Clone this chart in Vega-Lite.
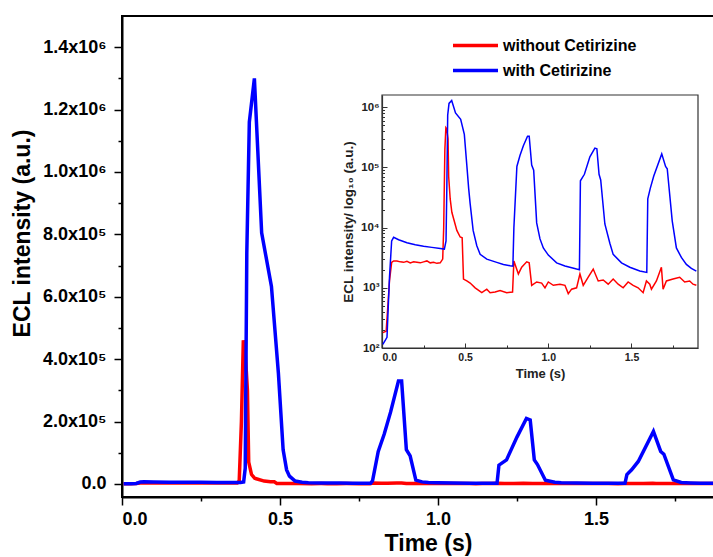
{
  "$schema": "https://vega.github.io/schema/vega-lite/v6.json",
  "width": 612,
  "height": 481,
  "autosize": "none",
  "padding": {"left": 122, "top": 16, "right": 0, "bottom": 60},
  "background": "white",
  "config": {"font": "Liberation Sans", "view": {"stroke": "black", "strokeWidth": 2}},
  "datasets": {
    "ecl": [
      {"t":0.005,"v":180,"series":"without Cetirizine"},{"t":0.025,"v":190,"series":"without Cetirizine"},{"t":0.045,"v":1300,"series":"without Cetirizine"},{"t":0.058,"v":2650,"series":"without Cetirizine"},{"t":0.07,"v":2800,"series":"without Cetirizine"},{"t":0.09,"v":2800,"series":"without Cetirizine"},{"t":0.11,"v":2700,"series":"without Cetirizine"},{"t":0.13,"v":2650,"series":"without Cetirizine"},{"t":0.15,"v":2750,"series":"without Cetirizine"},{"t":0.17,"v":2600,"series":"without Cetirizine"},{"t":0.19,"v":2700,"series":"without Cetirizine"},{"t":0.21,"v":2650,"series":"without Cetirizine"},{"t":0.23,"v":2600,"series":"without Cetirizine"},{"t":0.25,"v":2700,"series":"without Cetirizine"},{"t":0.27,"v":2800,"series":"without Cetirizine"},{"t":0.29,"v":2600,"series":"without Cetirizine"},{"t":0.31,"v":2650,"series":"without Cetirizine"},{"t":0.33,"v":2550,"series":"without Cetirizine"},{"t":0.35,"v":2600,"series":"without Cetirizine"},{"t":0.365,"v":3000,"series":"without Cetirizine"},{"t":0.371,"v":10000,"series":"without Cetirizine"},{"t":0.378,"v":200000,"series":"without Cetirizine"},{"t":0.384,"v":460000,"series":"without Cetirizine"},{"t":0.389,"v":440000,"series":"without Cetirizine"},{"t":0.397,"v":300000,"series":"without Cetirizine"},{"t":0.401,"v":70000,"series":"without Cetirizine"},{"t":0.41,"v":30000,"series":"without Cetirizine"},{"t":0.42,"v":18000,"series":"without Cetirizine"},{"t":0.45,"v":9000,"series":"without Cetirizine"},{"t":0.47,"v":7000,"series":"without Cetirizine"},{"t":0.482,"v":6800,"series":"without Cetirizine"},{"t":0.49,"v":1400,"series":"without Cetirizine"},{"t":0.51,"v":1300,"series":"without Cetirizine"},{"t":0.53,"v":1200,"series":"without Cetirizine"},{"t":0.56,"v":1000,"series":"without Cetirizine"},{"t":0.6,"v":830,"series":"without Cetirizine"},{"t":0.63,"v":950,"series":"without Cetirizine"},{"t":0.65,"v":830,"series":"without Cetirizine"},{"t":0.68,"v":850,"series":"without Cetirizine"},{"t":0.71,"v":900,"series":"without Cetirizine"},{"t":0.75,"v":830,"series":"without Cetirizine"},{"t":0.785,"v":850,"series":"without Cetirizine"},{"t":0.793,"v":2800,"series":"without Cetirizine"},{"t":0.82,"v":1700,"series":"without Cetirizine"},{"t":0.84,"v":2200,"series":"without Cetirizine"},{"t":0.87,"v":2700,"series":"without Cetirizine"},{"t":0.885,"v":2600,"series":"without Cetirizine"},{"t":0.9,"v":1100,"series":"without Cetirizine"},{"t":0.93,"v":1250,"series":"without Cetirizine"},{"t":0.96,"v":1200,"series":"without Cetirizine"},{"t":0.98,"v":1000,"series":"without Cetirizine"},{"t":1.0,"v":1250,"series":"without Cetirizine"},{"t":1.03,"v":1100,"series":"without Cetirizine"},{"t":1.07,"v":1150,"series":"without Cetirizine"},{"t":1.1,"v":1100,"series":"without Cetirizine"},{"t":1.12,"v":800,"series":"without Cetirizine"},{"t":1.14,"v":950,"series":"without Cetirizine"},{"t":1.17,"v":1000,"series":"without Cetirizine"},{"t":1.19,"v":1700,"series":"without Cetirizine"},{"t":1.21,"v":1100,"series":"without Cetirizine"},{"t":1.24,"v":1500,"series":"without Cetirizine"},{"t":1.27,"v":2050,"series":"without Cetirizine"},{"t":1.3,"v":1300,"series":"without Cetirizine"},{"t":1.33,"v":1350,"series":"without Cetirizine"},{"t":1.36,"v":1150,"series":"without Cetirizine"},{"t":1.39,"v":1400,"series":"without Cetirizine"},{"t":1.42,"v":1150,"series":"without Cetirizine"},{"t":1.45,"v":1000,"series":"without Cetirizine"},{"t":1.48,"v":1250,"series":"without Cetirizine"},{"t":1.51,"v":1100,"series":"without Cetirizine"},{"t":1.54,"v":1000,"series":"without Cetirizine"},{"t":1.57,"v":830,"series":"without Cetirizine"},{"t":1.59,"v":1300,"series":"without Cetirizine"},{"t":1.61,"v":1150,"series":"without Cetirizine"},{"t":1.62,"v":950,"series":"without Cetirizine"},{"t":1.65,"v":1300,"series":"without Cetirizine"},{"t":1.68,"v":2200,"series":"without Cetirizine"},{"t":1.69,"v":950,"series":"without Cetirizine"},{"t":1.71,"v":1300,"series":"without Cetirizine"},{"t":1.75,"v":1400,"series":"without Cetirizine"},{"t":1.79,"v":1500,"series":"without Cetirizine"},{"t":1.82,"v":1250,"series":"without Cetirizine"},{"t":1.85,"v":1300,"series":"without Cetirizine"},{"t":1.87,"v":1150,"series":"without Cetirizine"},{"t":1.89,"v":1100,"series":"without Cetirizine"},
      {"t":0.005,"v":115,"series":"with Cetirizine"},{"t":0.03,"v":150,"series":"with Cetirizine"},{"t":0.045,"v":1500,"series":"with Cetirizine"},{"t":0.058,"v":6000,"series":"with Cetirizine"},{"t":0.07,"v":6900,"series":"with Cetirizine"},{"t":0.1,"v":6300,"series":"with Cetirizine"},{"t":0.15,"v":5600,"series":"with Cetirizine"},{"t":0.2,"v":5200,"series":"with Cetirizine"},{"t":0.25,"v":4900,"series":"with Cetirizine"},{"t":0.3,"v":4700,"series":"with Cetirizine"},{"t":0.35,"v":4500,"series":"with Cetirizine"},{"t":0.375,"v":4400,"series":"with Cetirizine"},{"t":0.385,"v":6000,"series":"with Cetirizine"},{"t":0.39,"v":50000,"series":"with Cetirizine"},{"t":0.395,"v":740000,"series":"with Cetirizine"},{"t":0.403,"v":1160000,"series":"with Cetirizine"},{"t":0.419,"v":1300000,"series":"with Cetirizine"},{"t":0.442,"v":805000,"series":"with Cetirizine"},{"t":0.473,"v":633000,"series":"with Cetirizine"},{"t":0.495,"v":355000,"series":"with Cetirizine"},{"t":0.51,"v":109000,"series":"with Cetirizine"},{"t":0.521,"v":45000,"series":"with Cetirizine"},{"t":0.53,"v":25000,"series":"with Cetirizine"},{"t":0.548,"v":9000,"series":"with Cetirizine"},{"t":0.57,"v":5000,"series":"with Cetirizine"},{"t":0.59,"v":3600,"series":"with Cetirizine"},{"t":0.63,"v":3000,"series":"with Cetirizine"},{"t":0.69,"v":2650,"series":"with Cetirizine"},{"t":0.73,"v":2450,"series":"with Cetirizine"},{"t":0.77,"v":2330,"series":"with Cetirizine"},{"t":0.787,"v":2300,"series":"with Cetirizine"},{"t":0.793,"v":10000,"series":"with Cetirizine"},{"t":0.811,"v":104000,"series":"with Cetirizine"},{"t":0.83,"v":160000,"series":"with Cetirizine"},{"t":0.85,"v":230000,"series":"with Cetirizine"},{"t":0.875,"v":330000,"series":"with Cetirizine"},{"t":0.885,"v":330000,"series":"with Cetirizine"},{"t":0.9,"v":110000,"series":"with Cetirizine"},{"t":0.912,"v":90000,"series":"with Cetirizine"},{"t":0.93,"v":12000,"series":"with Cetirizine"},{"t":0.95,"v":6500,"series":"with Cetirizine"},{"t":0.97,"v":4600,"series":"with Cetirizine"},{"t":1.0,"v":3500,"series":"with Cetirizine"},{"t":1.05,"v":2600,"series":"with Cetirizine"},{"t":1.1,"v":2300,"series":"with Cetirizine"},{"t":1.17,"v":2050,"series":"with Cetirizine"},{"t":1.187,"v":2000,"series":"with Cetirizine"},{"t":1.193,"v":60000,"series":"with Cetirizine"},{"t":1.217,"v":77000,"series":"with Cetirizine"},{"t":1.25,"v":150000,"series":"with Cetirizine"},{"t":1.28,"v":210000,"series":"with Cetirizine"},{"t":1.292,"v":205000,"series":"with Cetirizine"},{"t":1.305,"v":77000,"series":"with Cetirizine"},{"t":1.315,"v":62000,"series":"with Cetirizine"},{"t":1.34,"v":11500,"series":"with Cetirizine"},{"t":1.37,"v":5500,"series":"with Cetirizine"},{"t":1.39,"v":3600,"series":"with Cetirizine"},{"t":1.44,"v":2600,"series":"with Cetirizine"},{"t":1.49,"v":2200,"series":"with Cetirizine"},{"t":1.55,"v":1900,"series":"with Cetirizine"},{"t":1.592,"v":1800,"series":"with Cetirizine"},{"t":1.598,"v":30000,"series":"with Cetirizine"},{"t":1.613,"v":45000,"series":"with Cetirizine"},{"t":1.634,"v":72000,"series":"with Cetirizine"},{"t":1.682,"v":168000,"series":"with Cetirizine"},{"t":1.705,"v":104000,"series":"with Cetirizine"},{"t":1.715,"v":95000,"series":"with Cetirizine"},{"t":1.745,"v":13000,"series":"with Cetirizine"},{"t":1.77,"v":4600,"series":"with Cetirizine"},{"t":1.8,"v":3200,"series":"with Cetirizine"},{"t":1.83,"v":2450,"series":"with Cetirizine"},{"t":1.86,"v":2100,"series":"with Cetirizine"},{"t":1.89,"v":1900,"series":"with Cetirizine"}
    ]
  },
  "layer": [
    {
      "data": {"name": "ecl"},
      "mark": {"type": "line", "strokeWidth": 3.5},
      "encoding": {
        "x": {
          "field": "t", "type": "quantitative",
          "scale": {"domain": [0, 1.937], "nice": false, "zero": false},
          "axis": {
            "orient": "bottom",
            "values": [0, 0.25, 0.5, 0.75, 1, 1.25, 1.5, 1.75],
            "labelExpr": "abs(datum.value*2 - round(datum.value*2)) < 0.000001 ? format(datum.value, '.1f') : ''",
            "labelFontSize": 18, "labelFontWeight": "bold", "labelColor": "black",
            "tickColor": "black", "tickWidth": 1.5,
            "tickSize": {"condition": {"test": "abs(datum.value*2 - round(datum.value*2)) < 0.000001", "value": 8}, "value": 4},
            "labelPadding": 5, "domainColor": "black", "domainWidth": 2, "grid": false,
            "title": "Time (s)", "titleFontSize": 23, "titleFontWeight": "bold", "titleColor": "black",
            "titleX": 306, "titleY": 46, "titleBaseline": "middle", "titleAlign": "center"
          }
        },
        "y": {
          "field": "v", "type": "quantitative",
          "scale": {"domain": [-42000, 1500000], "nice": false, "zero": false},
          "axis": {
            "orient": "left",
            "values": [0, 100000, 200000, 300000, 400000, 500000, 600000, 700000, 800000, 900000, 1000000, 1100000, 1200000, 1300000, 1400000],
            "labelExpr": "datum.value == 0 ? '0.0' : (datum.value % 200000 != 0 ? '' : (datum.value >= 1000000 ? format(datum.value/1000000, '.1f') + 'x10⁶' : format(datum.value/100000, '.1f') + 'x10⁵'))",
            "labelFontSize": 18, "labelFontWeight": "bold", "labelColor": "black",
            "tickColor": "black", "tickWidth": 1.5,
            "tickSize": {"condition": {"test": "datum.value % 200000 == 0", "value": 8}, "value": 4},
            "labelPadding": 8, "domainColor": "black", "domainWidth": 2, "grid": false,
            "title": "ECL intensity (a.u.)", "titleFontSize": 23, "titleFontWeight": "bold", "titleColor": "black",
            "titleX": -100, "titleY": 217, "titleAngle": -90, "titleBaseline": "middle", "titleAlign": "center"
          }
        },
        "color": {
          "field": "series", "type": "nominal",
          "scale": {"domain": ["without Cetirizine", "with Cetirizine"], "range": ["#ff0000", "#0000ff"]},
          "legend": {
            "orient": "none", "legendX": 336.5, "legendY": 12.5, "title": null,
            "symbolType": "M-1.5,0H1.5", "symbolSize": 900, "symbolStrokeWidth": 3.5,
            "labelFontSize": 16, "labelFontWeight": "bold", "labelColor": "black",
            "rowPadding": 0, "labelOffset": 10.5
          }
        }
      }
    },
    {
      "data": {"values": [{}]},
      "mark": {"type": "rect", "filled": false, "stroke": "#333333", "strokeWidth": 1.2},
      "encoding": {
        "x": {"datum": 0, "type": "quantitative", "scale": {"domain": [0, 1.9], "range": [260, 576], "nice": false, "zero": false}, "axis": null},
        "x2": {"datum": 1.9},
        "y": {"datum": 100, "type": "quantitative", "scale": {"type": "log", "domain": [100, 1600000], "range": [332, 79], "nice": false}, "axis": null},
        "y2": {"datum": 1600000}
      }
    },
    {
      "data": {"name": "ecl"},
      "mark": {"type": "line", "strokeWidth": 1.5},
      "encoding": {
        "x": {
          "field": "t", "type": "quantitative",
          "scale": {"domain": [0, 1.9], "range": [260, 576], "nice": false, "zero": false},
          "axis": {
            "orient": "bottom", "offset": -149,
            "values": [0, 0.25, 0.5, 0.75, 1, 1.25, 1.5, 1.75],
            "labelExpr": "abs(datum.value*2 - round(datum.value*2)) < 0.000001 ? format(datum.value, '.1f') : ''",
            "labelFontSize": 10.5, "labelFontWeight": "bold", "labelColor": "#222222",
            "tickColor": "#333333", "tickWidth": 1,
            "tickSize": {"condition": {"test": "abs(datum.value*2 - round(datum.value*2)) < 0.000001", "value": -5}, "value": -3},
            "labelPadding": 9, "domainColor": "#333333", "domainWidth": 1.2, "grid": false,
            "title": "Time (s)", "titleFontSize": 13, "titleFontWeight": "bold", "titleColor": "#222222", "titlePadding": 5
          }
        },
        "y": {
          "field": "v", "type": "quantitative",
          "scale": {"type": "log", "domain": [100, 1600000], "range": [332, 79], "nice": false},
          "axis": {
            "orient": "left", "offset": -260,
            "values": [100,200,300,400,500,600,700,800,900,1000,2000,3000,4000,5000,6000,7000,8000,9000,10000,20000,30000,40000,50000,60000,70000,80000,90000,100000,200000,300000,400000,500000,600000,700000,800000,900000,1000000],
            "labelExpr": "datum.value == 100 ? '10²' : datum.value == 1000 ? '10³' : datum.value == 10000 ? '10⁴' : datum.value == 100000 ? '10⁵' : datum.value == 1000000 ? '10⁶' : ''",
            "labelFontSize": 11.5, "labelFontWeight": "bold", "labelColor": "#222222",
            "tickColor": "#333333", "tickWidth": 1,
            "tickSize": {"condition": {"test": "indexof([100,1000,10000,100000,1000000], datum.value) >= 0", "value": -5}, "value": -2.5},
            "labelPadding": 8, "domainColor": "#333333", "domainWidth": 1.2, "grid": false,
            "title": "ECL intensity/ log₁₀ (a.u.)", "titleFontSize": 13.5, "titleFontWeight": "bold", "titleColor": "#222222", "titlePadding": 5
          }
        },
        "color": {"field": "series", "type": "nominal", "legend": null}
      }
    }
  ],
  "resolve": {
    "scale": {"x": "independent", "y": "independent", "color": "shared"},
    "axis": {"x": "independent", "y": "independent"}
  }
}
